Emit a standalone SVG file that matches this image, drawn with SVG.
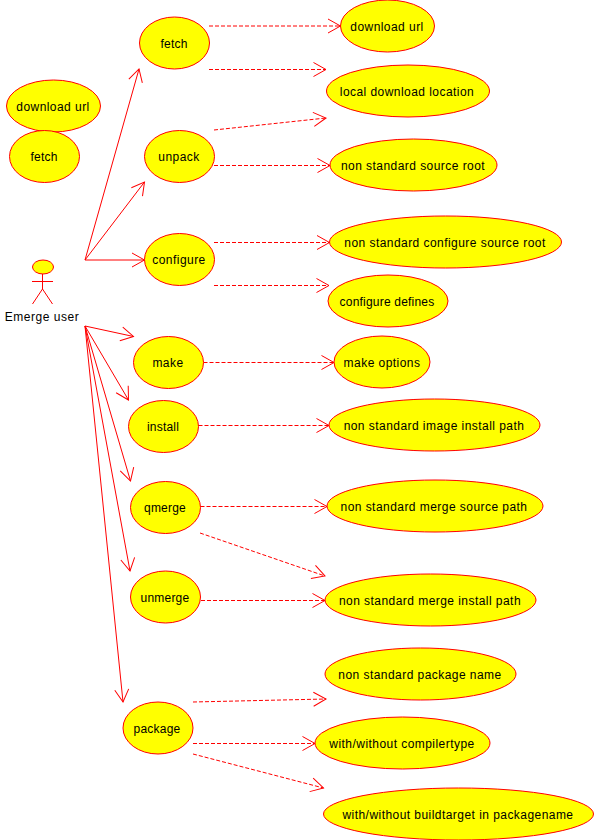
<svg xmlns="http://www.w3.org/2000/svg" width="594" height="840" viewBox="0 0 594 840">
<style>
text{font-family:"Liberation Sans",Arial,sans-serif;font-size:12px;fill:#000;text-anchor:middle;letter-spacing:.45px}
ellipse{fill:#ff0;stroke:#f00;stroke-width:1}
.a line,.a path{fill:none;stroke:#f00;stroke-width:1}
.d{stroke-dasharray:4 2}
.actor *{fill:none;stroke:#f00;stroke-width:1}
.actor ellipse{fill:#ff0}
.actor text{fill:#000;stroke:none;letter-spacing:.55px}
.n{letter-spacing:.2px}
</style>
<defs>
<marker id="open" markerUnits="userSpaceOnUse" markerWidth="18" markerHeight="18" viewBox="-16 -9 18 18" refX="0" refY="0" orient="auto">
<path d="M-12.5 -7 L0 0 L-12.5 7" fill="none" stroke="#f00" stroke-width="1"/>
</marker>
</defs>
<g id="connectors" class="a">
<line x1="85" y1="260" x2="139" y2="69" marker-end="url(#open)"/>
<line x1="85" y1="260" x2="144.5" y2="182" marker-end="url(#open)"/>
<line x1="85" y1="260" x2="144.5" y2="260" marker-end="url(#open)"/>
<line x1="85" y1="326" x2="133.5" y2="336.5" marker-end="url(#open)"/>
<line x1="85" y1="326" x2="128.5" y2="400" marker-end="url(#open)"/>
<line x1="85" y1="326" x2="130.5" y2="481" marker-end="url(#open)"/>
<line x1="85" y1="326" x2="130" y2="571" marker-end="url(#open)"/>
<line x1="85" y1="326" x2="123" y2="702" marker-end="url(#open)"/>
<line class="d" x1="209" y1="26" x2="340.5" y2="26" marker-end="url(#open)"/>
<line class="d" x1="209" y1="69.5" x2="326" y2="69.5" marker-end="url(#open)"/>
<line class="d" x1="214" y1="130" x2="326" y2="118" marker-end="url(#open)"/>
<line class="d" x1="214" y1="165.5" x2="330" y2="165.5" marker-end="url(#open)"/>
<line class="d" x1="214" y1="242.5" x2="329.5" y2="242.5" marker-end="url(#open)"/>
<line class="d" x1="214" y1="285.5" x2="329" y2="285.5" marker-end="url(#open)"/>
<line class="d" x1="203.5" y1="362.5" x2="334" y2="362.5" marker-end="url(#open)"/>
<line class="d" x1="198.5" y1="425.5" x2="329" y2="425.5" marker-end="url(#open)"/>
<line class="d" x1="200.5" y1="506.5" x2="327" y2="506.5" marker-end="url(#open)"/>
<line class="d" x1="200" y1="533" x2="325" y2="576" marker-end="url(#open)"/>
<line class="d" x1="201" y1="600.5" x2="325" y2="600.5" marker-end="url(#open)"/>
<line class="d" x1="193" y1="702" x2="326" y2="699" marker-end="url(#open)"/>
<line class="d" x1="193" y1="743.5" x2="315" y2="743.5" marker-end="url(#open)"/>
<line class="d" x1="193" y1="754" x2="323.5" y2="788" marker-end="url(#open)"/>
</g>
<g id="actor" class="actor">
<ellipse cx="43" cy="267" rx="10.5" ry="7"/>
<path d="M42.5 274V289M32 281.5H53M42.5 289L32.5 304M42.5 289L52.5 304"/>
<text x="42" y="321">Emerge user</text>
</g>
<g id="legend-download-url"><ellipse cx="53.5" cy="106" rx="47" ry="26"/><text x="53" y="110.5">download url</text></g>
<g id="legend-fetch"><ellipse cx="44.5" cy="156.5" rx="35" ry="26"/><text class="n" x="44" y="160.5">fetch</text></g>
<g id="fetch"><ellipse cx="174.5" cy="43" rx="35" ry="26"/><text class="n" x="174" y="47.5">fetch</text></g>
<g id="unpack"><ellipse cx="179.5" cy="156.5" rx="35" ry="26"/><text x="179" y="160.5">unpack</text></g>
<g id="configure"><ellipse cx="179.5" cy="259.5" rx="35" ry="26"/><text x="179" y="263.5">configure</text></g>
<g id="make"><ellipse cx="168.5" cy="362.5" rx="35" ry="26"/><text x="168" y="366.5">make</text></g>
<g id="install"><ellipse cx="163.5" cy="426.5" rx="35" ry="26"/><text class="n" x="163" y="430.5">install</text></g>
<g id="qmerge"><ellipse cx="165.5" cy="507.5" rx="35" ry="26"/><text class="n" x="165" y="511.5">qmerge</text></g>
<g id="unmerge"><ellipse cx="165.5" cy="597" rx="35" ry="26"/><text class="n" x="165" y="601.5">unmerge</text></g>
<g id="package"><ellipse cx="158" cy="728" rx="35" ry="26"/><text class="n" x="157" y="732.5">package</text></g>
<g id="download-url"><ellipse cx="387.5" cy="26" rx="47" ry="26"/><text x="387" y="30.5">download url</text></g>
<g id="local-download-location"><ellipse cx="408" cy="91" rx="81.5" ry="26"/><text x="407" y="95.5">local download location</text></g>
<g id="non-standard-source-root"><ellipse cx="413.5" cy="165" rx="83.5" ry="26"/><text x="413" y="169.5">non standard source root</text></g>
<g id="non-standard-configure-source-root"><ellipse cx="445.5" cy="242" rx="116" ry="26"/><text x="445" y="246.5">non standard configure source root</text></g>
<g id="configure-defines"><ellipse cx="388" cy="301" rx="60" ry="26"/><text class="n" x="387" y="305.5">configure defines</text></g>
<g id="make-options"><ellipse cx="382" cy="362" rx="48" ry="26"/><text x="382" y="366.5">make options</text></g>
<g id="non-standard-image-install-path"><ellipse cx="434.5" cy="425" rx="105.5" ry="26"/><text x="434" y="429.5">non standard image install path</text></g>
<g id="non-standard-merge-source-path"><ellipse cx="435" cy="506" rx="108" ry="26"/><text x="434" y="510.5">non standard merge source path</text></g>
<g id="non-standard-merge-install-path"><ellipse cx="430.5" cy="600" rx="105.5" ry="26"/><text x="430" y="604.5">non standard merge install path</text></g>
<g id="non-standard-package-name"><ellipse cx="420.5" cy="674" rx="95.5" ry="26"/><text x="420" y="678.5">non standard package name</text></g>
<g id="with-without-compilertype"><ellipse cx="402.5" cy="743" rx="87.5" ry="26"/><text x="402" y="747.5">with/without compilertype</text></g>
<g id="with-without-buildtarget-in-packagename"><ellipse cx="458.5" cy="814" rx="135" ry="26"/><text x="458" y="818.5">with/without buildtarget in packagename</text></g>
</svg>
